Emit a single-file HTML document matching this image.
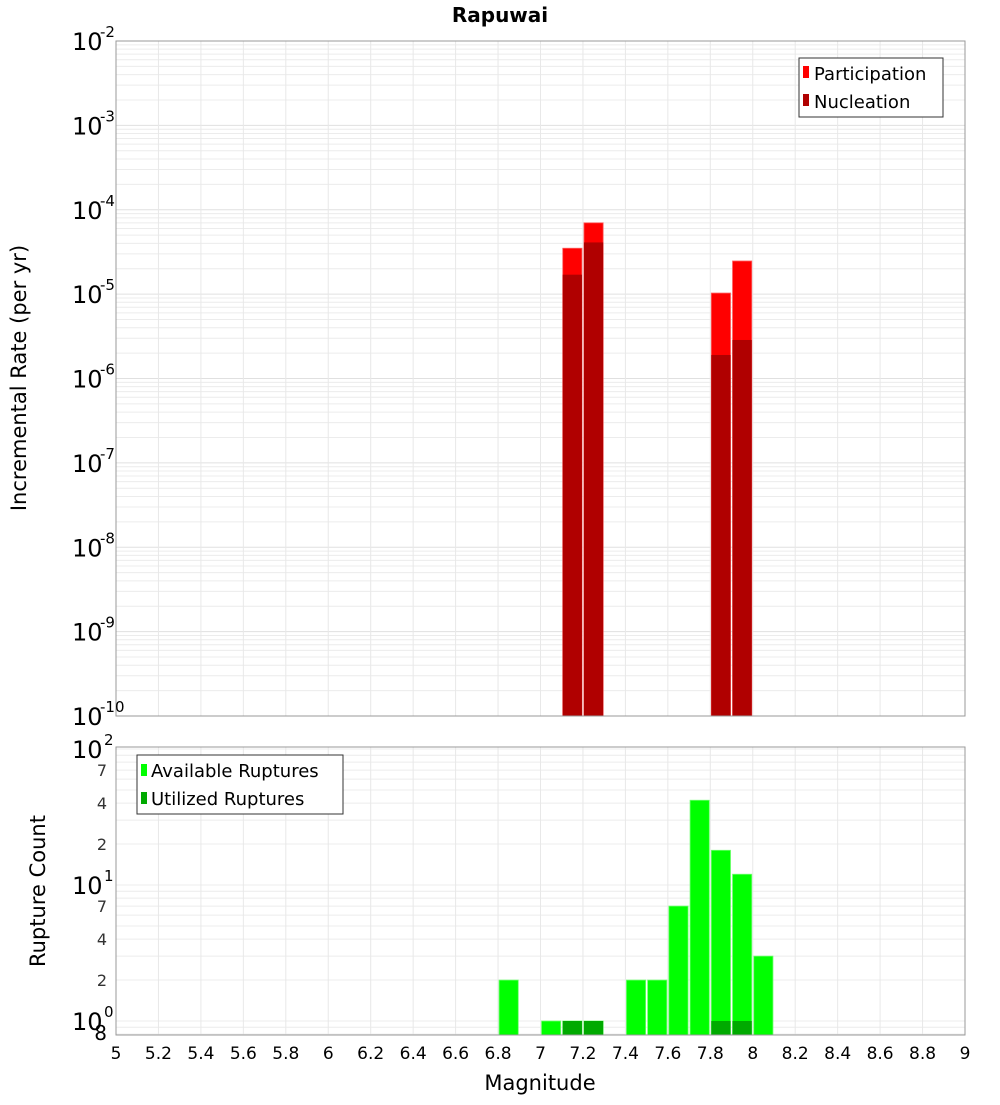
<!DOCTYPE html>
<html><head><meta charset="utf-8"><style>
body{margin:0;background:#fff;font-family:"Liberation Sans","DejaVu Sans",sans-serif}
svg text{font-family:"DejaVu Sans","Liberation Sans",sans-serif}
</style></head><body>
<svg id="chart" width="1000" height="1100" xmlns="http://www.w3.org/2000/svg">
<rect width="1000" height="1100" fill="#fff"/>
<text x="500" y="22" text-anchor="middle" font-size="20" font-weight="bold">Rapuwai</text>
<g id="topg"></g>
<g id="botg"></g>
<text transform="translate(26,378) rotate(-90)" text-anchor="middle" font-size="21">Incremental Rate (per yr)</text>
<text transform="translate(45,891) rotate(-90)" text-anchor="middle" font-size="21">Rupture Count</text>
<text x="540" y="1090" text-anchor="middle" font-size="21">Magnitude</text>
<g>
<rect x="799" y="58" width="144" height="59" fill="#fff" stroke="#333"/>
<rect x="803" y="66" width="6" height="12" fill="#ff0000"/>
<text x="814" y="80" font-size="18">Participation</text>
<rect x="803" y="94" width="6" height="12" fill="#b00000"/>
<text x="814" y="108" font-size="18">Nucleation</text>
</g>
<g>
<rect x="137" y="755" width="206" height="59" fill="#fff" stroke="#333"/>
<rect x="141" y="764" width="6" height="12" fill="#00ff00"/>
<text x="151" y="777" font-size="18">Available Ruptures</text>
<rect x="141" y="792" width="6" height="12" fill="#00aa00"/>
<text x="151" y="805" font-size="18">Utilized Ruptures</text>
</g>
</svg>
<script>
const mags=[7.15,7.25,7.85,7.95];
const participation=[3.5e-5,7e-5,1.03e-5,2.47e-5];
const nucleation=[1.7e-5,4.1e-5,1.9e-6,2.86e-6];
const countMags=[6.85,7.05,7.15,7.25,7.45,7.55,7.65,7.75,7.85,7.95,8.05];
const available=[2,1,1,1,2,2,7,42,18,12,3];
const utilizedMags=[7.15,7.25,7.85,7.95];
const utilized=[1,1,1,1];
const xTicks=[5,5.2,5.4,5.6,5.8,6,6.2,6.4,6.6,6.8,7,7.2,7.4,7.6,7.8,8,8.2,8.4,8.6,8.8,9];
const topExps=[-2,-3,-4,-5,-6,-7,-8,-9,-10];

const NS="http://www.w3.org/2000/svg";
const X0=116,X1=965;
const xS=m=>X0+(m-5)*(X1-X0)/4;
const yT=v=>41+84.375*(-2-Math.log10(v));
const yB=v=>1021-136*Math.log10(v);
function mk(p,t,a){const e=document.createElementNS(NS,t);for(const k in a)e.setAttribute(k,a[k]);p.appendChild(e);return e;}
const gTop=document.getElementById('topg'),gBot=document.getElementById('botg');

for(let e=-10;e<-2;e++)for(let k=1;k<10;k++){const y=yT(k*Math.pow(10,e));
const l=mk(gTop,'line',{x1:X0,x2:X1,y1:y,y2:y,stroke:k==1?'#e0e0e0':'#ececec','stroke-width':1});

}
for(const v of [0.8,0.9,1,2,3,4,5,6,7,8,9,10,20,30,40,50,60,70,80,90,100]){const y=yB(v);if(y<747||y>1035)continue;
const l=mk(gBot,'line',{x1:X0,x2:X1,y1:y,y2:y,stroke:'#ececec','stroke-width':1});

}
xTicks.forEach(m=>{
const a=mk(gTop,'line',{x1:xS(m),x2:xS(m),y1:41,y2:716,stroke:'#e8e8e8'});


const b=mk(gBot,'line',{x1:xS(m),x2:xS(m),y1:747,y2:1035,stroke:'#e8e8e8'});


const t=mk(gBot,'text',{x:xS(m),y:1059,'text-anchor':'middle','font-size':17});t.textContent=String(m);


});
const w=(X1-X0)/40;
mags.forEach((m,i)=>{
const xl=xS(m)-w/2+1,ww=w-2;
const p=mk(gTop,'rect',{x:xl,y:yT(participation[i]),width:ww,height:716-yT(participation[i]),fill:'#ff0000',stroke:'#ff6060','stroke-width':0.8});


const n=mk(gTop,'rect',{x:xl,y:yT(nucleation[i]),width:ww,height:716-yT(nucleation[i]),fill:'#b00000'});


});
countMags.forEach((m,i)=>{
const r=mk(gBot,'rect',{x:xS(m)-w/2+1,y:yB(available[i]),width:w-2,height:1035-yB(available[i]),fill:'#00ff00',stroke:'#70ff70','stroke-width':0.8});


});
utilizedMags.forEach((m,i)=>{
const r=mk(gBot,'rect',{x:xS(m)-w/2+1,y:yB(utilized[i]),width:w-2,height:1035-yB(utilized[i]),fill:'#00aa00'});


});
const f1=mk(gTop,'rect',{x:X0,y:41,width:X1-X0,height:675,fill:'none',stroke:'#999'});


const f2=mk(gBot,'rect',{x:X0,y:747,width:X1-X0,height:288,fill:'none',stroke:'#999'});


topExps.forEach(e=>{const y=yT(Math.pow(10,e));
const t=mk(gTop,'text',{x:72,y:y+9,'font-size':24});t.textContent='10';


const s=mk(gTop,'text',{x:100,y:y-4,'font-size':15});s.textContent=String(e);

});
[[100,'2'],[10,'1'],[1,'0']].forEach(([v,e])=>{const y=yB(v);
const t=mk(gBot,'text',{x:72,y:y+9,'font-size':24});t.textContent='10';


const s=mk(gBot,'text',{x:104,y:y-4,'font-size':15});s.textContent=e;

});
[[70,'7'],[40,'4'],[20,'2'],[7,'7'],[4,'4'],[2,'2'],[0.8,'8']].forEach(([v,l])=>{const y=yB(v);
const t=mk(gBot,'text',{x:107,y:y+6,'font-size':v<1?20:16,'text-anchor':'end','fill':v<1?'#000':'#333'});t.textContent=l;

});
</script>
</body></html>
